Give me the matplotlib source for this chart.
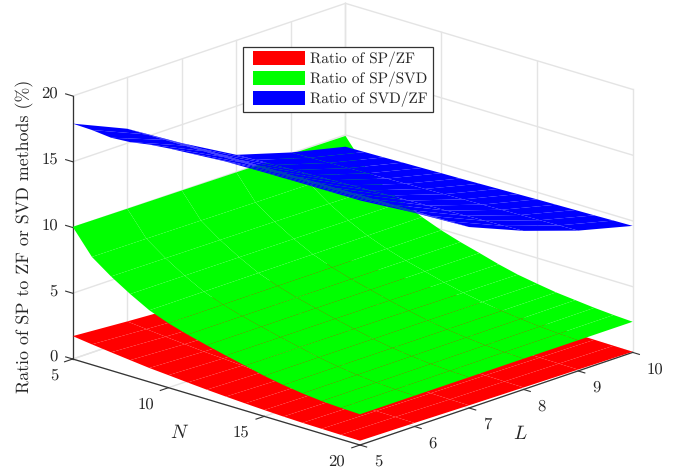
import numpy as np
import matplotlib
matplotlib.use("Agg")
import matplotlib.pyplot as plt
from matplotlib.legend_handler import HandlerPatch
from matplotlib.patches import Patch
from mpl_toolkits.mplot3d import proj3d

plt.rcParams["mathtext.fontset"] = "cm"
plt.rcParams["font.family"] = ["cmr10", "DejaVu Serif"]
plt.rcParams["axes.formatter.use_mathtext"] = True
plt.rcParams["text.hinting"] = "no_hinting"

n_values = [5, 6, 7, 8, 9, 10, 11, 12, 13, 14, 15, 16, 17, 18, 19, 20]
l_values = [5, 6, 7, 8, 9, 10]

# one row per N, one column per L
sp_zf = [
    [1.74, 1.45, 1.20, 1.00, 0.80, 0.62],
    [1.55, 1.30, 1.08, 0.90, 0.72, 0.56],
    [1.38, 1.16, 0.97, 0.81, 0.65, 0.50],
    [1.22, 1.03, 0.87, 0.72, 0.58, 0.45],
    [1.06, 0.90, 0.77, 0.64, 0.52, 0.40],
    [0.95, 0.81, 0.69, 0.58, 0.47, 0.36],
    [0.83, 0.71, 0.61, 0.51, 0.42, 0.32],
    [0.72, 0.62, 0.53, 0.45, 0.37, 0.28],
    [0.63, 0.54, 0.47, 0.40, 0.32, 0.24],
    [0.55, 0.48, 0.41, 0.35, 0.28, 0.20],
    [0.48, 0.42, 0.36, 0.30, 0.24, 0.17],
    [0.42, 0.37, 0.32, 0.26, 0.20, 0.14],
    [0.38, 0.33, 0.28, 0.23, 0.17, 0.11],
    [0.36, 0.31, 0.25, 0.20, 0.14, 0.09],
    [0.34, 0.29, 0.22, 0.17, 0.12, 0.07],
    [0.33, 0.27, 0.20, 0.15, 0.10, 0.05],
]
sp_svd = [
    [10.05, 10.02, 10.00, 9.97, 9.95, 9.92],
    [8.20, 8.18, 8.15, 8.12, 8.10, 8.08],
    [7.15, 7.13, 7.11, 7.09, 7.05, 7.00],
    [6.25, 6.24, 6.23, 6.22, 6.21, 6.20],
    [5.45, 5.46, 5.47, 5.48, 5.49, 5.50],
    [4.90, 4.91, 4.92, 4.92, 4.93, 4.93],
    [4.47, 4.47, 4.47, 4.47, 4.47, 4.47],
    [4.10, 4.10, 4.10, 4.09, 4.08, 4.07],
    [3.75, 3.74, 3.73, 3.71, 3.68, 3.65],
    [3.42, 3.41, 3.40, 3.37, 3.33, 3.30],
    [3.08, 3.08, 3.07, 3.07, 3.06, 3.05],
    [2.82, 2.82, 2.82, 2.82, 2.82, 2.82],
    [2.62, 2.62, 2.63, 2.64, 2.65, 2.67],
    [2.47, 2.47, 2.48, 2.49, 2.50, 2.52],
    [2.39, 2.39, 2.39, 2.40, 2.40, 2.41],
    [2.34, 2.34, 2.34, 2.34, 2.33, 2.33],
]
svd_zf = [
    [17.90, 16.10, 13.60, 11.30, 10.07, 9.10],
    [17.85, 16.11, 13.61, 11.35, 10.11, 9.13],
    [17.70, 16.12, 13.62, 11.40, 10.15, 9.16],
    [17.80, 16.13, 13.63, 11.45, 10.19, 9.20],
    [18.05, 16.14, 13.64, 11.50, 10.23, 9.23],
    [18.20, 16.15, 13.65, 11.55, 10.27, 9.27],
    [18.30, 16.16, 13.66, 11.60, 10.31, 9.30],
    [18.40, 16.17, 13.67, 11.65, 10.35, 9.34],
    [18.50, 16.18, 13.68, 11.70, 10.39, 9.38],
    [18.52, 16.19, 13.69, 11.75, 10.43, 9.42],
    [18.55, 16.20, 13.70, 11.80, 10.47, 9.46],
    [18.56, 16.21, 13.71, 11.85, 10.51, 9.49],
    [18.58, 16.22, 13.72, 11.90, 10.55, 9.52],
    [18.58, 16.23, 13.73, 11.95, 10.59, 9.55],
    [18.59, 16.24, 13.75, 12.00, 10.63, 9.59],
    [18.60, 16.25, 13.76, 12.06, 10.67, 9.62],
]

n_ticks = [5, 10, 15, 20]
l_ticks = [5, 6, 7, 8, 9, 10]
z_ticks = [0, 5, 10, 15, 20]

series_names = ["Ratio of SP/ZF", "Ratio of SP/SVD", "Ratio of SVD/ZF"]
series_colors = ["#ff0000", "#00ff00", "#0000ff"]

GRID = "#e4e4e4"
AXIS = "#333333"
TEXT = "#262626"
W, H = 689, 476

fig = plt.figure(figsize=(W / 100, H / 100), dpi=100)
ax = fig.add_subplot(projection="3d", proj_type="ortho", computed_zorder=False)
ax.set_position([41 / W, -59.9 / H, 607 / W, 607 / H])
ax.view_init(elev=18.6, azim=-46.8)
ax.set_box_aspect((394, 398.4, 277.5))
ax.set_axis_off()

# back walls and floor grid
for z in z_ticks:
    ax.plot([5, 5], [5, 10], [z, z], color=GRID, lw=1, zorder=1)
    ax.plot([5, 20], [10, 10], [z, z], color=GRID, lw=1, zorder=1)
for l in l_ticks:
    ax.plot([5, 5], [l, l], [0, 20], color=GRID, lw=1, zorder=1)
    ax.plot([5, 20], [l, l], [0, 0], color=GRID, lw=1, zorder=1)
for n in n_ticks:
    ax.plot([n, n], [10, 10], [0, 20], color=GRID, lw=1, zorder=1)
    ax.plot([n, n], [5, 10], [0, 0], color=GRID, lw=1, zorder=1)

# axis lines with their ticks
ax.plot([5, 5], [5, 5], [0, 20], color=AXIS, lw=0.9, zorder=2)
ax.plot([5, 20], [5, 5], [0, 0], color=AXIS, lw=0.9, zorder=2)
ax.plot([20, 20], [5, 10], [0, 0], color=AXIS, lw=0.9, zorder=2)
for z in z_ticks:
    ax.plot([5, 4.63], [5, 5], [z, z], color=AXIS, lw=0.8, zorder=2)
for n in n_ticks:
    ax.plot([n, n], [5, 4.85], [0, 0], color=AXIS, lw=0.8, zorder=2)
for l in l_ticks:
    ax.plot([20, 20.35], [l, l], [0, 0], color=AXIS, lw=0.8, zorder=2)

# surfaces, stacked like the original: red, green, then blue on top
n_grid, l_grid = np.meshgrid(n_values, l_values, indexing="ij")
for i, table in enumerate([sp_zf, sp_svd, svd_zf]):
    ax.plot_surface(n_grid, l_grid, np.array(table), rstride=1, cstride=1,
                    color=series_colors[i], shade=False, antialiased=True,
                    linewidth=0, edgecolor="none", zorder=3 + i)

ax.set_xlim(5, 20, view_margin=0)
ax.set_ylim(5, 10, view_margin=0)
ax.set_zlim(0, 20, view_margin=0)


def label_3d(n, l, z, s, **kw):
    # project by hand so the text sits where a 3D point lands, as a plain 2D text
    x2, y2, _ = proj3d.proj_transform(n, l, z, ax.get_proj())
    ax.text2D(x2, y2, s, transform=ax.transData, color=TEXT, va="center", **kw)


for z in z_ticks:
    label_3d(4.23, 5, z - 0.18, str(z), ha="right", fontsize=12)
for n in n_ticks:
    label_3d(n, 4.73, -0.88, str(n), ha="right", fontsize=12)
for l in l_ticks:
    label_3d(20.73, l, -0.95, str(l), ha="left", fontsize=12)
label_3d(12.6, 4.3, -1.3, r"$N$", ha="center", fontsize=14)
label_3d(21, 7.59, -2.37, r"$L$", ha="center", fontsize=14)

fig.text(24 / W, 1 - 236.5 / H, "Ratio of SP to ZF or SVD methods (%)", rotation=90,
         ha="center", va="center", fontsize=12.9, color=TEXT)

handles = [Patch(facecolor=c, edgecolor="none") for c in series_colors]
leg = fig.legend(handles, series_names, loc="upper left",
                 bbox_to_anchor=(242.7 / W, 1 - 46.7 / H), borderaxespad=0,
                 fontsize=11, fancybox=False, framealpha=1, edgecolor=AXIS,
                 handlelength=3.77, handleheight=1.0, handletextpad=0.35,
                 labelspacing=0.26, borderpad=0.3, labelcolor=TEXT,
                 handler_map={Patch: HandlerPatch(xpad=0.365)})
leg.get_frame().set_linewidth(0.9)

fig.savefig("out.png", dpi=100)
